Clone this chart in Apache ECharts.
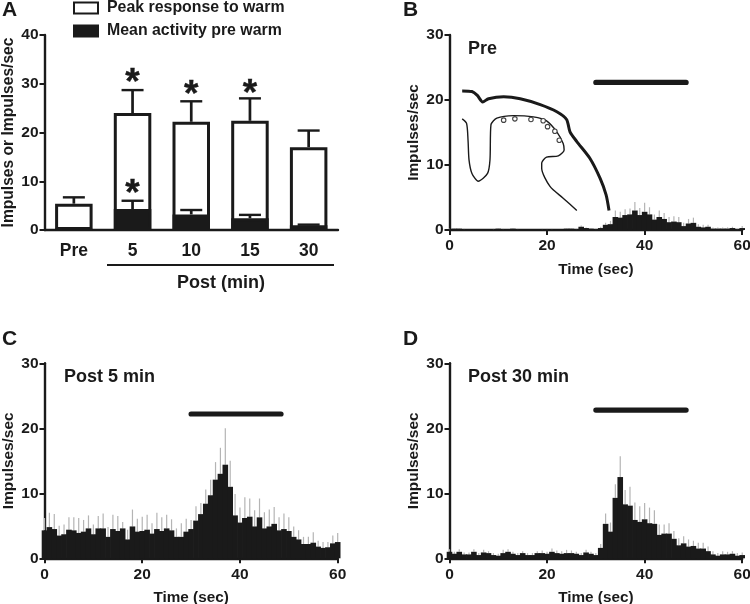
<!DOCTYPE html>
<html><head><meta charset="utf-8">
<style>html,body{margin:0;padding:0;background:#fff}#c{width:750px;height:604px}</style>
<script src="https://cdn.jsdelivr.net/npm/echarts@6/dist/echarts.min.js"></script>
</head><body><div id="c"></div>
<script>
const groups = ['Pre','5','10','15','30'];
const peak      = [5.4,24.0,22.2,22.4,17.0];
const peakUpper = [6.7,28.7,26.4,27.0,20.4];
const mean      = [0.2,4.3,3.2,2.4,1.0];
const meanUpper = [0.3,6.0,4.1,3.1,1.1];
const stars = [[1,31.6],[2,29.1],[3,29.3],[1,8.9]];

const preMean = [.1,.2,.2,.1,0,0,0,0,0,.1,.2,.1,0,.2,.1,0,0,0,0,.1,.1,.1,0,0,.2,.2,.1,.5,.3,.2,.1,.3,.8,.9,2.0,1.9,2.3,2.4,3.0,2.3,2.8,2.4,1.6,2.0,1.7,1.2,1.3,1.2,.6,1.0,1.1,.5,.4,.5,.2,.2,.2,.2,.3,.1,.3];
const preUp   = [.2,.3,.3,.2,0,0,0,0,0,.2,.3,.2,0,.3,.2,0,0,0,0,.2,.2,.2,0,0,.3,.3,.2,.7,.4,.3,.2,.5,1.1,1.4,3.0,2.8,3.2,3.3,4.3,3.4,4.2,3.5,2.4,3.0,2.6,2.0,2.1,2.0,1.1,1.7,1.9,.9,.8,.8,.4,.4,.4,.4,.5,.2,.6];

const post5Mean = [4.3,4.8,4.5,3.5,3.7,4.4,4.3,3.9,4.1,4.6,3.7,4.6,4.6,3.3,4.5,4.2,4.6,2.9,4.9,4.1,4.2,4.4,3.8,4.5,4.2,4.6,4.3,3.3,3.3,4.1,4.5,5.8,6.8,8.4,9.7,12.1,13.0,14.4,11.0,6.6,5.5,6.2,6.4,4.9,6.3,4.6,4.9,5.3,4.3,4.5,4.2,3.3,2.9,2.2,2.2,2.4,1.8,1.6,1.7,2.3,2.5];
const post5Up   = [6.2,7.0,6.8,5.0,5.2,6.3,6.3,6.2,5.9,6.6,5.2,6.5,6.9,4.8,6.7,6.5,5.6,4.4,7.5,6.1,6.4,6.7,5.4,7.0,6.3,6.7,6.0,4.6,5.4,6.1,5.9,8.0,8.5,10.6,12.1,14.8,17.0,20.0,15.0,9.9,7.8,9.4,9.2,7.4,9.2,7.1,7.5,7.9,6.3,6.9,6.3,4.9,4.3,3.3,3.3,4.0,2.7,2.5,2.5,3.5,3.9];

const post30Mean = [1.0,.7,1.0,.6,.6,1.0,.5,.9,.8,.5,.4,.8,1.0,.7,.5,.8,.5,.5,.8,.8,.7,1.0,.8,.7,.8,.8,.7,.5,.9,.7,.5,1.6,5.3,4.1,9.3,12.5,8.3,8.1,5.9,5.6,6.0,5.4,5.3,3.6,3.8,3.8,3.0,2.0,2.3,1.8,1.9,1.5,1.5,1.1,.6,.4,.6,.6,.7,.4,.5];
const post30Up   = [1.4,1.0,1.4,.9,.9,1.4,.8,1.3,1.1,.8,.7,1.3,1.4,1.0,.8,1.1,.8,.8,1.1,1.2,1.0,1.5,1.2,1.1,1.3,1.2,1.0,.8,1.3,1.0,.8,2.2,6.9,5.5,11.4,15.7,10.5,11.0,8.6,8.0,8.5,7.8,7.4,5.2,5.2,5.4,4.2,3.1,3.4,2.9,2.7,2.4,2.4,1.8,1.1,.8,1.1,1.0,1.1,.8,.9];

const stimB = [[30,22.7],[48.5,22.7]];
const stimC = [[30,22.2],[48.4,22.2]];
const stimD = [[30,22.8],[48.5,22.8]];

const sketchThick = [[2.6,21.4],[4.6,21.3],[5.7,20.7],[6.8,19.7],[8.0,20.2],[11.1,20.5],[14.5,20.2],[18.6,19.3],[22.0,18.2],[24.0,17.0],[24.7,15.1],[26.1,13.6],[28.8,11.0],[30.9,7.9],[32.1,5.4],[32.7,3.0]];
const sketchThin = [[2.6,17.1],[3.5,16.4],[3.8,13.8],[4.0,10.8],[4.6,8.7],[5.9,7.5],[7.8,8.7],[8.3,10.8],[8.5,16.2],[9.7,17.2],[13.1,17.6],[17.2,17.4],[19.9,16.8],[22.0,15.1],[23.3,13.3],[23.5,12.3],[22.3,11.4],[19.9,11.2],[18.9,10.3],[18.9,9.5],[20.6,6.7],[23.3,4.9],[26.1,3.0]];
const sketchDots = [[11.1,16.9],[13.4,17.1],[16.7,17.0],[19.2,16.8],[20.1,15.9],[21.6,15.2],[22.5,13.8]];

const INK = '#1a1a1a';
const FONT = '"Liberation Sans", Arial, sans-serif';
const font = (s)=>({fontFamily:FONT,fontWeight:'bold',fontSize:s,color:INK});
const axisLine = {show:true,onZero:false,lineStyle:{color:INK,width:2.4}};
const tick = {show:true,length:5,lineStyle:{color:INK,width:2}};

const grids = [
  {left:44.5,top:35,width:293.5,height:195,outerBoundsMode:'none'},
  {left:449.5,top:35,width:292.7,height:195,outerBoundsMode:'none'},
  {left:44.5,top:363.3,width:293.2,height:195,outerBoundsMode:'none'},
  {left:449.5,top:363.3,width:292.7,height:195,outerBoundsMode:'none'}
];
const xAxes = [
  {gridIndex:0,type:'category',data:groups,axisLine,axisTick:{show:false},axisLabel:{...font(17.5),margin:12}},
  ...[1,2,3].map(g=>({gridIndex:g,type:'value',min:0,max:60,interval:20,splitLine:{show:false},axisLine,axisTick:tick,
    axisLabel:{...font(15.5),margin:8},name:'Time (sec)',nameLocation:'middle',nameGap:32,nameTextStyle:font(15.3)}))
];
const yAxes = [
  {gridIndex:0,type:'value',min:0,max:40,interval:10,splitLine:{show:false},axisLine,axisTick:tick,
   axisLabel:{...font(15.5),margin:6},name:'Impulses or Impulses/sec',nameLocation:'middle',nameGap:28,nameTextStyle:font(15.6)},
  ...[1,2,3].map(g=>({gridIndex:g,type:'value',min:0,max:30,interval:10,splitLine:{show:false},axisLine,axisTick:tick,
   axisLabel:{...font(15.5),margin:6},name:'Impulses/sec',nameLocation:'middle',nameGap:28,nameTextStyle:font(15.4)}))
];

function errA(values,uppers){
  return values.map((v,i)=>[i,v,uppers[i]]);
}
function renderErr(params,api){
  const b=api.coord([api.value(0),api.value(1)]), t=api.coord([api.value(0),api.value(2)]);
  return {type:'group',children:[
    {type:'line',shape:{x1:b[0],y1:b[1],x2:t[0],y2:t[1]},style:{stroke:INK,lineWidth:2.7}},
    {type:'line',shape:{x1:t[0]-11,y1:t[1],x2:t[0]+11,y2:t[1]},style:{stroke:INK,lineWidth:2.4}}
  ]};
}
function renderGrey(params,api){
  const b=api.coord([api.value(0),api.value(1)]), t=api.coord([api.value(0),api.value(2)]);
  return {type:'line',shape:{x1:b[0],y1:b[1],x2:t[0],y2:t[1]},style:{stroke:'#b4b4b4',lineWidth:1.2}};
}
function hist(axis,means,ups){
  return [
    {type:'custom',xAxisIndex:axis,yAxisIndex:axis,renderItem:renderGrey,clip:false,silent:true,z:2,
     encode:{x:0,y:[1,2]},data:means.map((m,i)=>[i,m,ups[i]])},
    {type:'bar',xAxisIndex:axis,yAxisIndex:axis,barWidth:5.6,clip:false,silent:true,z:3,
     itemStyle:{color:INK},data:means.map((m,i)=>[i,m])}
  ];
}
function stim(axis,pts){
  return {type:'line',xAxisIndex:axis,yAxisIndex:axis,data:pts,symbol:'none',silent:true,z:4,
    lineStyle:{color:INK,width:5.2,cap:'round'}};
}

const series = [
  {type:'custom',name:'peakErr',xAxisIndex:0,yAxisIndex:0,renderItem:renderErr,z:1,encode:{x:0,y:[1,2]},data:errA(peak,peakUpper)},
  {type:'bar',name:'Peak response to warm',xAxisIndex:0,yAxisIndex:0,barWidth:37.5,barGap:'-100%',z:2,
   itemStyle:{color:'#fff',borderColor:INK,borderWidth:3},data:peak},
  {type:'bar',name:'Mean activity pre warm',xAxisIndex:0,yAxisIndex:0,barWidth:37.5,barGap:'-100%',z:3,
   itemStyle:{color:INK,borderColor:INK,borderWidth:3},data:mean},
  {type:'custom',name:'meanErr',xAxisIndex:0,yAxisIndex:0,renderItem:renderErr,z:4,encode:{x:0,y:[1,2]},data:errA(mean,meanUpper)},
  {type:'scatter',xAxisIndex:0,yAxisIndex:0,symbolSize:1,itemStyle:{color:'transparent',opacity:1},silent:true,z:5,data:stars,
   label:{show:true,position:'inside',formatter:'*',offset:[0,8],...font(37),opacity:1,textBorderColor:INK,textBorderWidth:0.4}},
  ...hist(1,preMean,preUp),
  ...hist(2,post5Mean,post5Up),
  ...hist(3,post30Mean,post30Up),
  stim(1,stimB),stim(2,stimC),stim(3,stimD),
  {type:'line',xAxisIndex:1,yAxisIndex:1,data:sketchThick,smooth:0.25,symbol:'none',silent:true,z:4,lineStyle:{color:INK,width:3}},
  {type:'line',xAxisIndex:1,yAxisIndex:1,data:sketchThin,smooth:0.25,symbol:'none',silent:true,z:4,lineStyle:{color:INK,width:1.4}},
  {type:'scatter',xAxisIndex:1,yAxisIndex:1,data:sketchDots,symbol:'circle',symbolSize:4.5,silent:true,z:4,
   itemStyle:{color:'#fff',borderColor:'#444',borderWidth:1.1,opacity:1}}
];

function txt(s,x,y,size,align){
  return {type:'text',x,y,silent:true,style:{text:s,font:`bold ${size}px ${FONT}`,fill:INK,align:align||'left',verticalAlign:'middle'}};
}
const chart = echarts.init(document.getElementById('c'),null,{renderer:'canvas'});
chart.setOption({
  animation:false,backgroundColor:'#fff',textStyle:{fontFamily:FONT},
  grid:grids,xAxis:xAxes,yAxis:yAxes,series,
  legend:{show:true,orient:'vertical',left:73,top:0,padding:0,icon:'rect',itemWidth:24,itemHeight:11,itemGap:7,
    data:['Peak response to warm','Mean activity pre warm'],textStyle:{...font(15.9),padding:[0,0,0,4]},selectedMode:false},
  graphic:[
    txt('A',2,10,21),txt('B',403,10,21),txt('C',2,339,21),txt('D',403,339,21),
    txt('Post (min)',221,283,18,'center'),
    {type:'line',silent:true,shape:{x1:107,y1:265,x2:334,y2:265},style:{stroke:INK,lineWidth:2.2}},
    txt('Pre',468,49,18),txt('Post 5 min',64,377,18),txt('Post 30 min',468,377,18)
  ]
});
</script></body></html>
